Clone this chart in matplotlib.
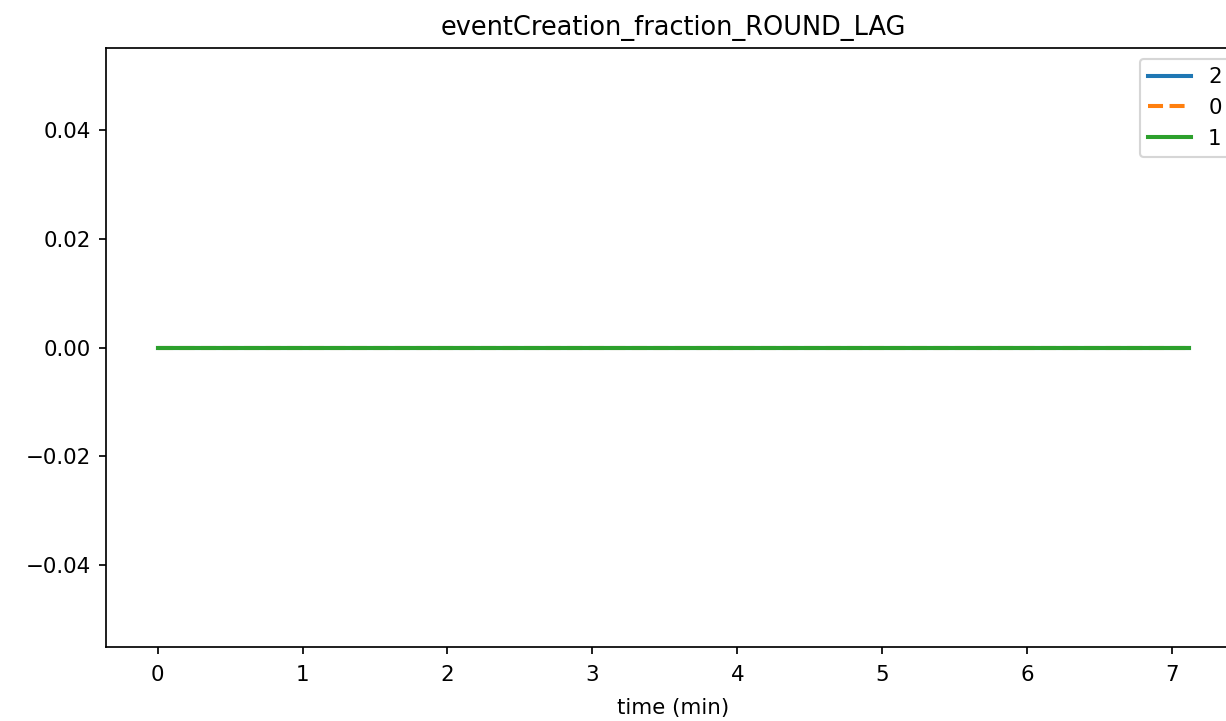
import matplotlib
matplotlib.use("Agg")
import matplotlib.pyplot as plt

# time samples (min) and per-node fraction values
time_min = [0.0, 1.0, 2.0, 3.0, 4.0, 5.0, 6.0, 7.0, 7.12]
series_labels = ["2", "0", "1"]
series_values = {
    "2": [0, 0, 0, 0, 0, 0, 0, 0, 0],
    "0": [0, 0, 0, 0, 0, 0, 0, 0, 0],
    "1": [0, 0, 0, 0, 0, 0, 0, 0, 0],
}
series_styles = {"2": "-", "0": "--", "1": "-"}

dpi = 154
fig = plt.figure(figsize=(1226 / dpi, 721 / dpi), dpi=dpi)
# axes runs past the right edge, as in the cropped original
ax = fig.add_axes([106 / 1226, 74 / 721, 1135 / 1226, 599 / 721])

for name in series_labels:
    ax.plot(time_min, series_values[name], linestyle=series_styles[name],
            linewidth=1.9, label=name)

ax.set_title("eventCreation_fraction_ROUND_LAG")
ax.set_xlabel("time (min)", labelpad=6)
ax.tick_params(axis="x", pad=5)
ax.legend(loc="upper right")

fig.savefig("out.png", dpi=dpi)
